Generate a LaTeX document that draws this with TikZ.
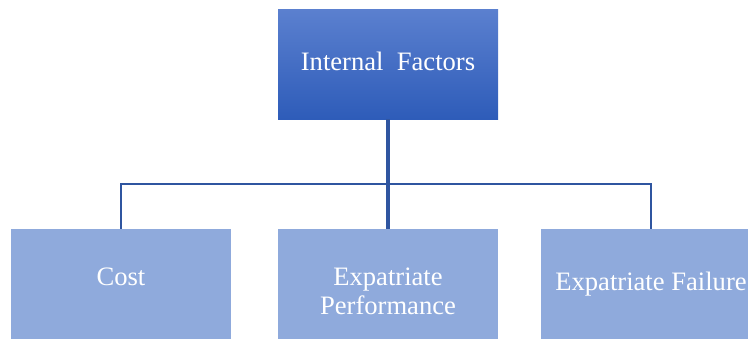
\documentclass[tikz,border=0pt]{standalone}
\usepackage{fontspec}
\setmainfont{Liberation Serif}
\definecolor{linec}{RGB}{47,85,160}
\definecolor{boxlight}{RGB}{143,170,220}
\definecolor{topc}{RGB}{91,128,207}
\definecolor{botc}{RGB}{46,92,185}
\begin{document}
\begin{tikzpicture}[x=1pt,y=-1pt,
  box/.style={rectangle,inner sep=0pt,minimum width=220pt,minimum height=110pt,draw=none},
  lbl/.style={text=white,font=\fontsize{26.6}{29}\selectfont,inner sep=0pt,anchor=base,align=center},
  conn/.style={draw=linec,line width=2pt},
  trunk/.style={draw=linec,line width=4.5pt}]
\useasboundingbox (0,0) rectangle (748,340);
\node[box,top color=topc,bottom color=botc] (top) at (388,64) {};
\node[box,fill=boxlight] (cost) at (121,284) {};
\node[box,fill=boxlight] (perf) at (388,284) {};
\node[box,fill=boxlight] (fail) at (651,284) {};
\node[lbl] (toptxt) at (388,70) {Internal\ \ Factors};
\node[lbl] (costtxt) at (121,285) {Cost};
\node[lbl,anchor=base] (perftxt1) at (388,285) {Expatriate};
\node[lbl,anchor=base] (perftxt2) at (388,314) {Performance};
\node[lbl] (failtxt) at (651,290) {Expatriate Failure};
\draw[conn] (cost.north) -- ++(0,-45) -| (fail.north);
\draw[trunk] (top.south) -- (perf.north);
\end{tikzpicture}
\end{document}
